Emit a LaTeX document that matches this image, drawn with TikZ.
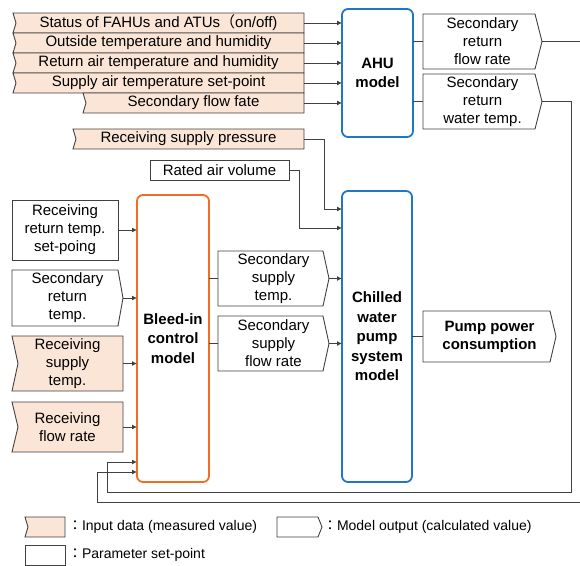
\documentclass[tikz,border=0pt]{standalone}
\usepackage{fontspec}
\setmainfont{Liberation Sans}
\newfontfamily\cjk{Noto Sans CJK JP}
\usetikzlibrary{arrows.meta,backgrounds,calc}
\definecolor{peach}{HTML}{FBE5D6}
\definecolor{edgec}{HTML}{404040}
\definecolor{orng}{HTML}{F26D21}
\definecolor{blu}{HTML}{1F77C6}
\newcommand\myinshape[2]{\path[inpath] (#1.north west) -- (#1.north east) -- (#1.south east) -- (#1.south west) -- ([xshift=#2pt]#1.west) -- cycle;}
\newcommand\myoutshape[2]{\path[outpath] (#1.north west) -- ([xshift=-#2pt]#1.north east) -- (#1.east) -- ([xshift=-#2pt]#1.south east) -- (#1.south west) -- cycle;}
\newcommand\myparshape[1]{\path[outpath] (#1.north west) rectangle (#1.south east);}
\begin{document}
\begin{tikzpicture}[x=1pt,y=-1pt,
  geom/.style n args={4}{minimum width={#3-#1}, minimum height={#4-#2}, anchor=north west, at={(#1,#2)}},
  txt/.style={inner sep=0, outer sep=0, align=center, font=\fontsize{15}{18}\selectfont},
  modelbox/.style={draw, line width=1.8pt, rounded corners=6pt, inner sep=0, outer sep=0, align=center, font=\fontsize{15}{19.5}\selectfont\bfseries},
  ahubox/.style={modelbox, draw=blu},
  bleedbox/.style={modelbox, draw=orng},
  wire/.style={draw=edgec, line width=0.9pt},
  arr/.style={wire, -{Latex[length=5pt,width=5pt]}},
  inpath/.style={draw=edgec, fill=peach, line width=0.9pt},
  outpath/.style={draw=edgec, fill=white, line width=0.9pt},
  lgtxt/.style={inner sep=0, outer sep=0, anchor=west, font=\fontsize{14}{17}\selectfont},
]
\useasboundingbox (0,0) rectangle (580,565);

% top inputs
\node[txt, geom={13}{13}{304}{33}] (in1) {Status of FAHUs and ATUs{\cjk （}on/off)};
\node[txt, geom={13}{33}{304}{53}] (in2) {Outside temperature and humidity};
\node[txt, geom={13}{53}{304}{73}] (in3) {Return air temperature and humidity};
\node[txt, geom={13}{73}{304}{93}] (in4) {Supply air temperature set-point};
\node[txt, geom={83}{93}{304}{113}] (in5) {Secondary flow fate};

\node[ahubox, geom={342}{9}{413}{137}] (ahu) {AHU\\model};
\node[txt, geom={423}{14}{542}{69}] (o1) {Secondary\\return\\flow rate};
\node[txt, geom={423}{74}{542}{129}] (o2) {Secondary\\return\\water temp.};

\node[txt, geom={73}{129}{304}{149}] (rsp) {Receiving supply pressure};
\node[txt, geom={150}{160}{289}{180}] (rav) {Rated air volume};

% left column
\node[txt, geom={12}{200}{118}{260}] (p1) {Receiving\\return temp.\\set-poing};
\node[txt, geom={12}{270}{123}{326}] (m1) {Secondary\\return\\temp.};
\node[txt, geom={12}{336}{123}{391}] (in6) {Receiving\\supply\\temp.};
\node[txt, geom={12}{402}{123}{452}] (in7) {Receiving\\flow rate};

\node[bleedbox, geom={137}{195}{209}{482}] (bleed) {Bleed-in\\control\\model};

\node[txt, geom={218}{251}{329}{306}] (o3) {Secondary\\supply\\temp.};
\node[txt, geom={218}{316}{329}{371}] (o4) {Secondary\\supply\\flow rate};

\node[ahubox, geom={342}{191}{412}{482}] (chill) {Chilled\\water\\pump\\system\\model};
\node[txt, geom={423}{311}{556}{362}, font=\fontsize{15}{18}\selectfont\bfseries] (pp) {Pump power\\consumption};

% legend
\node[txt, geom={25}{517}{65}{537}] (lg1) {};
\node[txt, geom={277}{517}{322}{537}] (lg2) {};
\node[txt, geom={25}{545}{65}{565}] (lg3) {};
\node[lgtxt] (lt1) at (68,527) {{\cjk ：}Input data (measured value)};
\node[lgtxt] (lt2) at (323,527) {{\cjk ：}Model output (calculated value)};
\node[lgtxt] (lt3) at (68,555) {{\cjk ：}Parameter set-point};

\begin{scope}[on background layer]
  \myinshape{in1}{3}
  \myinshape{in2}{3}
  \myinshape{in3}{3}
  \myinshape{in4}{3}
  \myinshape{in5}{3}
  \myinshape{rsp}{3}
  \myinshape{in6}{6}
  \myinshape{in7}{6}
  \myinshape{lg1}{3}
  \myoutshape{o1}{7}
  \myoutshape{o2}{7}
  \myoutshape{m1}{5}
  \myoutshape{o3}{6}
  \myoutshape{o4}{6}
  \myoutshape{pp}{6}
  \myoutshape{lg2}{4}
  \myparshape{rav}
  \myparshape{p1}
  \myparshape{lg3}
\end{scope}

% coordinates for connector routing
\coordinate (edgeR) at (580,502);
\coordinate (r1) at (571,492);
\coordinate (l1) at (107,462);
\coordinate (l2) at (97,472);
\coordinate (k1) at (324,209);
\coordinate (k2) at (299,228);

% connectors
\foreach \n in {in1,in2,in3,in4,in5}
  \draw[arr] (\n.east) -- (\n.east -| ahu.west);
\draw[wire] (o1.west -| ahu.east) -- (o1.west);
\draw[wire] (o2.west -| ahu.east) -- (o2.west);
\draw[wire] (o1.east) -- (o1.east -| edgeR);
\draw[arr] (o2.east) -| (r1) -| (l1) -- (l1 -| bleed.west);
\draw[arr] (edgeR) -| (l2) -- (l2 -| bleed.west);
\draw[arr] (rsp.east) -| (k1) -- (k1 -| chill.west);
\draw[arr] (rav.east) -| (k2) -- (k2 -| chill.west);
\draw[arr] (p1.east) -- (p1.east -| bleed.west);
\draw[arr] (m1.east) -- (m1.east -| bleed.west);
\draw[arr] (in6.east) -- (in6.east -| bleed.west);
\draw[arr] (in7.east) -- (in7.east -| bleed.west);
\draw[wire] (o3.west -| bleed.east) -- (o3.west);
\draw[wire] (o4.west -| bleed.east) -- (o4.west);
\draw[arr] (o3.east) -- (o3.east -| chill.west);
\draw[arr] (o4.east) -- (o4.east -| chill.west);
\draw[wire] (pp.west -| chill.east) -- (pp.west);
\end{tikzpicture}
\end{document}
